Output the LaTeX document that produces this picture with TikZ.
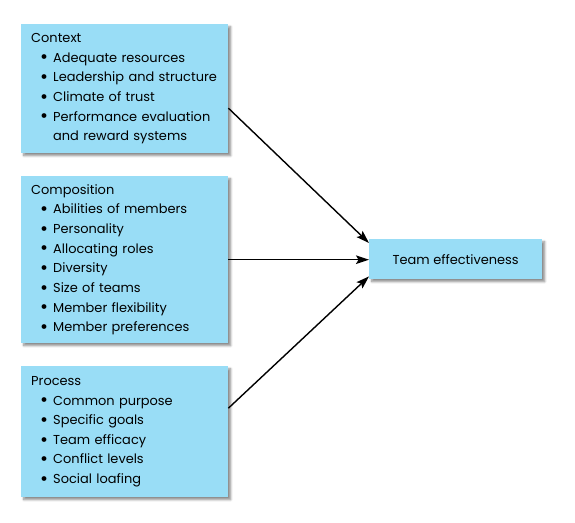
\documentclass[tikz,border=0pt]{standalone}
\usepackage{fontspec}
\setmainfont{Poppins}
\usetikzlibrary{arrows.meta,calc,shadows.blur}
\definecolor{boxblue}{RGB}{153,221,246}
\newcommand{\itm}[1]{\mbox{\makebox[22bp][r]{\raisebox{-0.25ex}{\scalebox{1.5}{\textbullet}}\hspace{5bp}}#1}}
\newcommand{\cont}[1]{\mbox{\hspace*{22bp}#1}}
\tikzset{
  shad/.style={blur shadow={shadow xshift=2.5bp, shadow yshift=-2.5bp, shadow blur steps=6, shadow opacity=45}},
  blk/.style={rectangle, fill=boxblue, draw=none, align=left, text width=187bp,
    inner xsep=10bp, inner ysep=0pt, anchor=north west,
    font=\fontsize{13}{19.7}\selectfont, shad},
  tm/.style={rectangle, fill=boxblue, draw=none, anchor=north west,
    minimum width=173bp, minimum height=40bp, inner sep=0pt,
    font=\fontsize{13}{19.7}\selectfont, shad},
  arr/.style={draw=black, line width=1.4bp, -{Stealth[length=13bp,width=8.5bp,inset=2.5bp]}}
}
\begin{document}
\begin{tikzpicture}[x=1bp,y=-1bp]
\useasboundingbox (0,0) rectangle (575,523);
\node[blk, minimum height=129bp] (ctx) at (21,24) {Context\\
\itm{Adequate resources}\\
\itm{Leadership and structure}\\
\itm{Climate of trust}\\
\itm{Performance evaluation}\\
\cont{and reward systems}};
\node[blk, minimum height=167bp] (comp) at (21,176) {Composition\\
\itm{Abilities of members}\\
\itm{Personality}\\
\itm{Allocating roles}\\
\itm{Diversity}\\
\itm{Size of teams}\\
\itm{Member flexibility}\\
\itm{Member preferences}};
\node[blk, minimum height=131bp] (proc) at (21,366) {Process\\
\itm{Common purpose}\\
\itm{Specific goals}\\
\itm{Team efficacy}\\
\itm{Conflict levels}\\
\itm{Social loafing}};
\node[tm] (team) at (369,239) {Team effectiveness};
\draw[arr] ($(ctx.east)+(0,19.5)$) -- ($(team.north west)+(0,4)$);
\draw[arr] (comp.east) -- (comp.east -| team.west);
\draw[arr] ($(proc.east)+(0,-23.5)$) -- ($(team.south west)+(0,-3)$);
\end{tikzpicture}
\end{document}
